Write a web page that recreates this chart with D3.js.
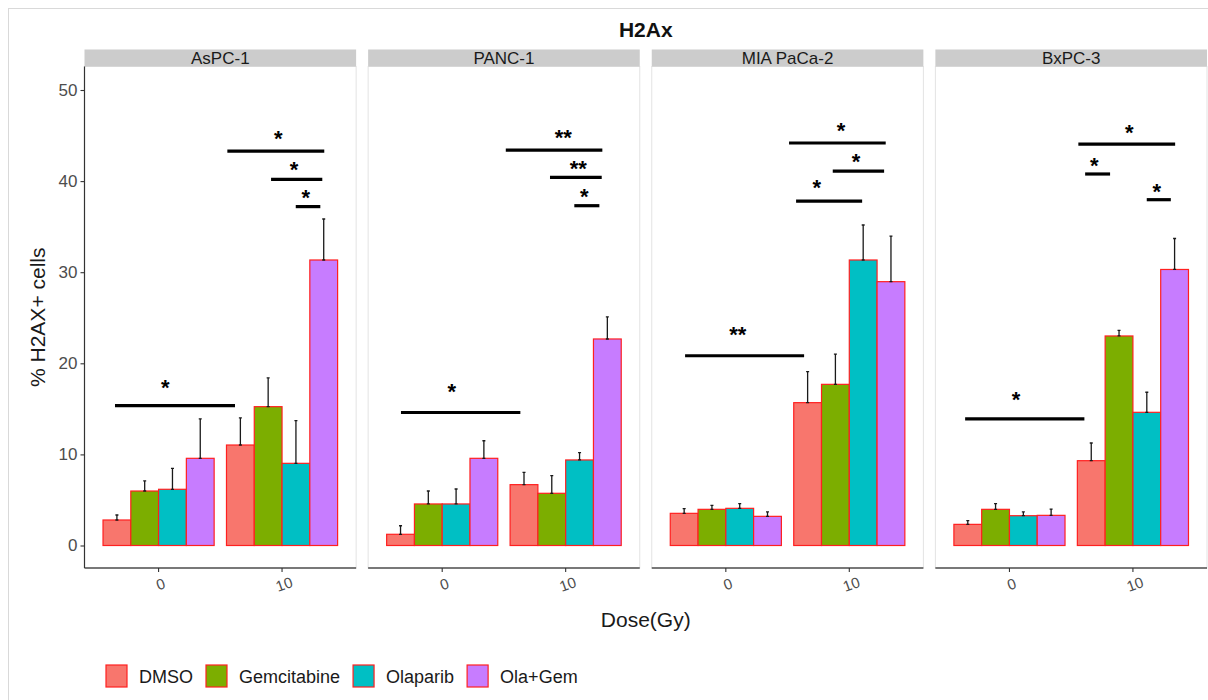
<!DOCTYPE html>
<html><head><meta charset="utf-8">
<script src="https://cdn.jsdelivr.net/npm/d3@7"></script>
<style>body{margin:0;background:#fff;} text{font-family:"Liberation Sans",Arial,sans-serif;}</style>
</head><body>
<svg id="c" width="1208" height="700"></svg>
<script>
// ---- data ----
const panels = ["AsPC-1", "PANC-1", "MIA PaCa-2", "BxPC-3"];
const doses = ["0", "10"];
const treatments = ["DMSO", "Gemcitabine", "Olaparib", "Ola+Gem"];
const colors = ["#F8766D", "#7CAE00", "#00BFC4", "#C77CFF"];
const yTicks = [0, 10, 20, 30, 40, 50];
// means, ordered dose 0 (DMSO, Gem, Ola, Ola+Gem) then dose 10
const meanAsPC1 = [2.8, 5.98, 6.17, 9.57, 11.03, 15.24, 9.02, 31.34];
const sdAsPC1   = [0.55, 1.12, 2.3, 4.33, 2.97, 3.16, 4.68, 4.5];
const meanPANC1 = [1.23, 4.56, 4.56, 9.57, 6.68, 5.73, 9.39, 22.67];
const sdPANC1   = [0.94, 1.42, 1.64, 1.93, 1.35, 1.93, 0.81, 2.43];
const meanMIA   = [3.53, 3.97, 4.08, 3.2, 15.68, 17.69, 31.34, 28.96];
const sdMIA     = [0.51, 0.44, 0.51, 0.48, 3.4, 3.31, 3.84, 5.01];
const meanBxPC3 = [2.32, 3.97, 3.27, 3.31, 9.31, 23.0, 14.62, 30.3];
const sdBxPC3   = [0.4, 0.62, 0.41, 0.69, 1.94, 0.62, 2.2, 3.4];
// significance brackets: [x1, x2, y, labelX, labelY, label] (x in dose-position units, y in %)
const sigAsPC1 = [[0.647,1.619,15.35,1.055,17.8,"*"],[1.557,2.342,43.3,1.97,45.17,"*"],[1.911,2.326,40.2,2.097,41.77,"*"],[2.111,2.31,37.2,2.192,38.73,"*"]];
const sigPANC1 = [[0.666,1.633,14.6,1.077,17.43,"*"],[1.515,2.297,43.4,1.981,45.31,"**"],[1.873,2.292,40.4,2.102,41.84,"**"],[2.07,2.273,37.3,2.151,38.84,"*"]];
const sigMIA   = [[0.67,1.634,20.83,1.097,23.66,"**"],[1.512,2.295,44.18,1.934,46.08,"*"],[1.866,2.282,41.1,2.055,42.68,"*"],[1.569,2.104,37.8,1.737,39.76,"*"]];
const sigBxPC3 = [[0.641,1.607,13.89,1.054,16.52,"*"],[1.558,2.342,44.07,1.971,45.8,"*"],[1.613,1.815,40.78,1.687,42.24,"*"],[2.112,2.307,37.96,2.193,39.32,"*"]];

const means = [meanAsPC1, meanPANC1, meanMIA, meanBxPC3];
const sds = [sdAsPC1, sdPANC1, sdMIA, sdBxPC3];
const sigs = [sigAsPC1, sigPANC1, sigMIA, sigBxPC3];

// ---- layout ----
const svg = d3.select("#c");
svg.append("rect").attr("x",8.5).attr("y",8.5).attr("width",1400).attr("height",900)
  .attr("fill","none").attr("stroke","#d9d9d9");

const plotL = 84.5, plotR = 1207, gap = 12;
const pw = (plotR - plotL - gap*3)/4;
const stripTop = 49.5, panelTop = 66.5, panelBot = 568;
const y = d3.scaleLinear().domain([-2.47, 52.58]).range([panelBot, panelTop]);

svg.append("text").attr("x",(plotL+plotR)/2).attr("y",37).attr("text-anchor","middle")
  .attr("font-size",21).attr("font-weight","bold").attr("fill","#111").text("H2Ax");

const groupW = 0.9, barW = groupW/treatments.length;

panels.forEach((pn, p) => {
  const L = plotL + p*(pw+gap);
  const x = d3.scaleLinear().domain([0.4, 2.6]).range([L, L+pw]);
  const g = svg.append("g");
  // panel border
  g.append("rect").attr("x",L).attr("y",panelTop).attr("width",pw).attr("height",panelBot-panelTop)
    .attr("fill","#fff").attr("stroke","#e3e3e3").attr("stroke-width",1);
  // strip
  g.append("rect").attr("x",L).attr("y",stripTop).attr("width",pw).attr("height",panelTop-stripTop)
    .attr("fill","#cccccc");
  g.append("text").attr("x",L+pw/2).attr("y",64).attr("text-anchor","middle")
    .attr("font-size",17).attr("fill","#1a1a1a").text(pn);

  const rows = [];
  doses.forEach((d, di) => treatments.forEach((t, ti) => {
    const k = di*treatments.length + ti;
    const cx = (di+1) - groupW/2 + barW*(ti+0.5);
    rows.push({cx, m: means[p][k], sd: sds[p][k], ti});
  }));
  // bars
  g.selectAll("rect.bar").data(rows).join("rect").attr("class","bar")
    .attr("x", r => x(r.cx - barW/2)).attr("width", r => x(r.cx + barW/2) - x(r.cx - barW/2))
    .attr("y", r => y(r.m)).attr("height", r => y(0) - y(r.m))
    .attr("fill", r => colors[r.ti]).attr("stroke","#ff2020").attr("stroke-width",1.2);
  // error bars
  g.selectAll("path.err").data(rows).join("path").attr("class","err")
    .attr("d", r => {
      const xc = x(r.cx), y0 = y(r.m), y1 = y(r.m + r.sd);
      return `M${xc},${y0}V${y1}M${xc-1.5},${y1}H${xc+1.5}M${xc-1.5},${y0}H${xc+1.5}`;
    }).attr("stroke","#1a1a1a").attr("stroke-width",1.3).attr("fill","none");
  // significance
  sigs[p].forEach(s => {
    g.append("line").attr("x1",x(s[0])).attr("x2",x(s[1])).attr("y1",y(s[2])).attr("y2",y(s[2]))
      .attr("stroke","#000").attr("stroke-width",3.2);
    g.append("text").attr("x",x(s[3])).attr("y",y(s[4])).attr("dy","0.55em").attr("text-anchor","middle")
      .attr("font-size",22).attr("font-weight","bold").attr("fill","#000").text(s[5]);
  });
  // x axis
  g.append("line").attr("x1",L).attr("x2",L+pw).attr("y1",panelBot).attr("y2",panelBot)
    .attr("stroke","#000").attr("stroke-width",1.2);
  doses.forEach((d, di) => {
    const tx = x(di+1);
    g.append("line").attr("x1",tx).attr("x2",tx).attr("y1",panelBot).attr("y2",panelBot+4)
      .attr("stroke","#333").attr("stroke-width",1.1);
    g.append("text").attr("transform",`translate(${tx+2},${584}) rotate(-20)`)
      .attr("text-anchor","middle").attr("dominant-baseline","central")
      .attr("font-size",15).attr("fill","#4d4d4d").text(d);
  });
  if (p === 0) {
    g.append("line").attr("x1",L).attr("x2",L).attr("y1",panelTop).attr("y2",panelBot)
      .attr("stroke","#333").attr("stroke-width",1.2);
    const ax = d3.axisLeft(y).tickValues(yTicks).tickSize(4).tickPadding(3);
    const ag = g.append("g").attr("transform",`translate(${L},0)`).call(ax);
    ag.select(".domain").remove();
    ag.selectAll(".tick line").attr("stroke","#333").attr("stroke-width",1.1);
    ag.selectAll(".tick text").attr("font-size",17).attr("fill","#4d4d4d")
      .attr("font-family","Liberation Sans, Arial, sans-serif");
  }
});

// axis titles
svg.append("text").attr("x",(plotL+plotR)/2).attr("y",627).attr("text-anchor","middle")
  .attr("font-size",21).attr("fill","#1a1a1a").text("Dose(Gy)");
svg.append("text").attr("transform",`translate(45,${(panelTop+panelBot)/2}) rotate(-90)`)
  .attr("text-anchor","middle").attr("font-size",21).attr("fill","#1a1a1a").text("% H2AX+ cells");

// legend
const lg = svg.append("g");
let lx = 106;
treatments.forEach((t, i) => {
  lg.append("rect").attr("x",lx).attr("y",665).attr("width",21).attr("height",22)
    .attr("fill",colors[i]).attr("stroke","#ff2020").attr("stroke-width",1.2);
  const tt = lg.append("text").attr("x",lx+33).attr("y",683).attr("font-size",18).attr("fill","#1a1a1a").text(t);
  lx += 33 + tt.node().getComputedTextLength() + 13;
});
</script>
</body></html>
